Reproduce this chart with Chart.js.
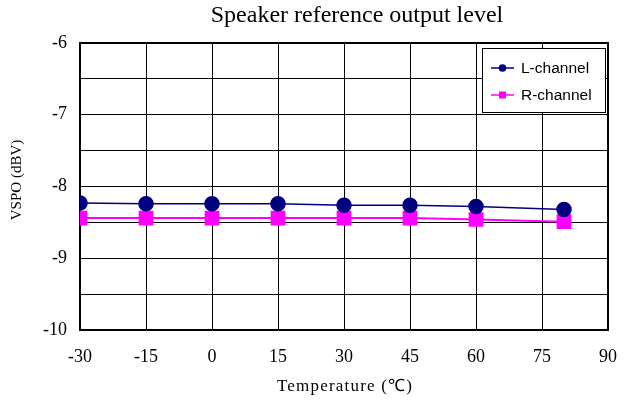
<!DOCTYPE html>
<html>
<head>
<meta charset="utf-8">
<script src="https://cdn.jsdelivr.net/npm/chart.js@4"></script>
<style>
  body { margin: 0; background: #fff; }
  #wrap { width: 627px; height: 405px; }
</style>
</head>
<body>
<div id="wrap"><canvas id="grafico"></canvas></div>
<script>
const temps = [-30, -15, 0, 15, 30, 45, 60, 80];
const lChannel = [-8.23, -8.24, -8.24, -8.24, -8.26, -8.26, -8.28, -8.32];
const rChannel = [-8.44, -8.44, -8.44, -8.44, -8.44, -8.44, -8.46, -8.49];
const xTicks = [-30, -15, 0, 15, 30, 45, 60, 75, 90];
const yTicks = [-10, -9, -8, -7, -6];

const serif = '"Liberation Serif", "Times New Roman", serif';
const sans = '"Liberation Sans", Arial, sans-serif';

const pontos = (vals) => temps.map((t, i) => ({ x: t, y: vals[i] }));

// titulos e legenda desenhados a mao, como no grafico original
const extras = {
  id: 'extras',
  afterDraw(chart) {
    const ctx = chart.ctx;
    ctx.save();
    ctx.fillStyle = '#000';
    ctx.textAlign = 'center';
    ctx.textBaseline = 'middle';
    ctx.font = '24px ' + serif;
    ctx.fillText('Speaker reference output level', 357, 16);

    ctx.font = '17px ' + serif;
    ctx.letterSpacing = '1.2px';
    ctx.fillText('Temperature (\u2103)', 345, 387);
    ctx.letterSpacing = '0px';

    ctx.font = '15px ' + serif;
    ctx.translate(17, 180);
    ctx.rotate(-Math.PI / 2);
    ctx.fillText('VSPO (dBV)', 0, 0);
    ctx.restore();

    // legenda
    const bx = 482, by = 48, bw = 123, bh = 64;
    ctx.save();
    ctx.fillStyle = '#fff';
    ctx.fillRect(bx, by, bw, bh);
    ctx.strokeStyle = '#000';
    ctx.lineWidth = 1;
    ctx.strokeRect(bx + 0.5, by + 0.5, bw, bh);
    const itens = [
      { txt: 'L-channel', cor: '#000080', forma: 'circle', y: 68 },
      { txt: 'R-channel', cor: '#FF00FF', forma: 'square', y: 95 }
    ];
    ctx.font = '15.5px ' + sans;
    ctx.textBaseline = 'middle';
    ctx.textAlign = 'left';
    itens.forEach(it => {
      ctx.strokeStyle = it.cor;
      ctx.lineWidth = 1.5;
      ctx.beginPath();
      ctx.moveTo(491, it.y);
      ctx.lineTo(514, it.y);
      ctx.stroke();
      ctx.fillStyle = it.cor;
      if (it.forma === 'circle') {
        ctx.beginPath();
        ctx.arc(502.5, it.y, 3.8, 0, Math.PI * 2);
        ctx.fill();
      } else {
        ctx.fillRect(499, it.y - 3.5, 7, 7);
      }
      ctx.fillStyle = '#000';
      ctx.fillText(it.txt, 521, it.y + 1);
    });
    ctx.restore();
  }
};

new Chart(document.getElementById('grafico'), {
  type: 'line',
  data: {
    datasets: [{
      label: 'L-channel',
      data: pontos(lChannel),
      borderColor: '#000080',
      backgroundColor: '#000080',
      borderWidth: 1.5,
      pointStyle: 'circle',
      pointRadius: 7,
      pointHoverRadius: 7,
      tension: 0
    }, {
      label: 'R-channel',
      data: pontos(rChannel),
      borderColor: '#FF00FF',
      backgroundColor: '#FF00FF',
      borderWidth: 2,
      pointStyle: 'rect',
      pointRadius: 9,
      pointHoverRadius: 9,
      tension: 0
    }]
  },
  options: {
    responsive: true,
    maintainAspectRatio: false,
    animation: false,
    layout: { padding: { top: 43, right: 19, left: 0, bottom: 0 } },
    plugins: {
      legend: { display: false },
      title: { display: false },
      tooltip: { enabled: false }
    },
    scales: {
      x: {
        type: 'linear',
        min: -30,
        max: 90,
        afterFit(s) { s.height = 75; s.paddingLeft = 0; s.paddingRight = 0; },
        afterBuildTicks(s) { s.ticks = xTicks.map(v => ({ value: v })); },
        ticks: {
          color: '#000',
          font: { family: serif, size: 18 },
          padding: 16,
          maxRotation: 0
        },
        grid: { color: '#000', lineWidth: 1, drawTicks: false },
        border: { color: '#000', width: 2 }
      },
      y: {
        min: -10,
        max: -6,
        afterFit(s) { s.width = 80; s.paddingTop = 0; s.paddingBottom = 0; },
        ticks: {
          stepSize: 0.5,
          color: '#000',
          font: { family: serif, size: 18 },
          padding: 13,
          callback: v => yTicks.includes(v) ? String(v) : ''
        },
        grid: { color: '#000', lineWidth: 1, drawTicks: false },
        border: { color: '#000', width: 2 }
      }
    }
  },
  plugins: [extras, {
    id: 'moldura',
    beforeDatasetsDraw(chart) {
      const a = chart.chartArea, ctx = chart.ctx;
      ctx.save();
      ctx.strokeStyle = '#000';
      ctx.lineWidth = 2;
      ctx.strokeRect(a.left, a.top, a.right - a.left, a.bottom - a.top);
      ctx.restore();
    }
  }]
});
</script>
</body>
</html>
